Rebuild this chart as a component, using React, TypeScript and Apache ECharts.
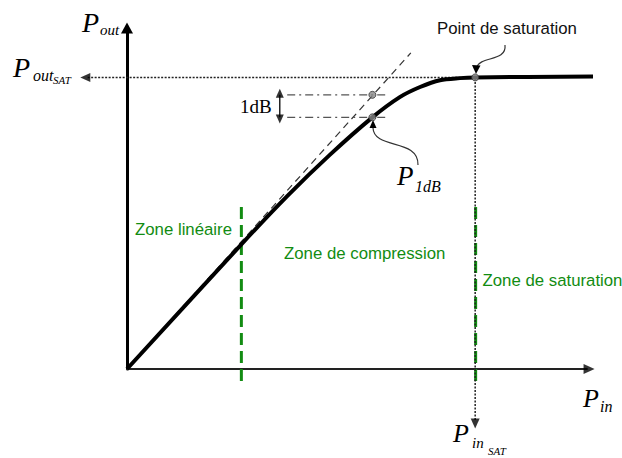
import React, { useEffect, useRef } from "react";
import * as echarts from "echarts";

// Transfer curve (arbitrary units)
const pin = [0, 2.46, 3.46, 4.38, 5.3, 5.9, 6.33, 6.76, 7.19, 7.52, 10.1];
const pout = [0, 3.64, 5.07, 6.28, 7.38, 7.98, 8.27, 8.47, 8.53, 8.55, 8.58];
// Linear extrapolation (tangent)
const tangentIn = [0, 6.13];
const tangentOut = [0, 9.27];
// 1 dB compression point
const p1dbIn = 5.3;
const p1dbOut = 7.38;
const p1dbLinear = 8.04;
// Saturation point
const satIn = 7.52;
const satOut = 8.55;
// Zone borders
const zoneBorders = [2.47, 7.53];

const GREEN = "#128c12";
const SERIF = '"Liberation Serif", "Times New Roman", serif';
const SANS = '"Liberation Sans", Arial, sans-serif';

function txt(text: string, x: number, y: number, size: number, family: string, fill: string, italic = false) {
  return {
    type: "text",
    x,
    y,
    silent: true,
    style: {
      text,
      fill,
      fontSize: size,
      fontFamily: family,
      fontStyle: italic ? "italic" : "normal",
      align: "left",
      verticalAlign: "middle",
    },
  };
}

export default function App() {
  const ref = useRef<HTMLDivElement>(null);
  useEffect(() => {
    document.body.style.margin = "0";
    if (!ref.current) return;
    const chart = echarts.init(ref.current, null, { renderer: "svg" });
    const curve = pin.map((x, i) => [x, pout[i]]);
    const arrowHead = (x: number, y: number, rot: number, w = 9, h = 9) => ({
      value: [x, y],
      symbolRotate: rot,
      symbolSize: [w, h],
    });
    chart.setOption({
      animation: false,
      grid: { left: 80.7, top: 28, right: 32, bottom: 89 },
      xAxis: {
        type: "value",
        min: -1,
        max: 10,
        axisLine: { show: false },
        axisTick: { show: false },
        axisLabel: { show: false },
        splitLine: { show: false },
      },
      yAxis: {
        type: "value",
        min: 0,
        max: 10,
        axisLine: {
          show: true,
          onZero: true,
          symbol: ["none", "triangle"],
          symbolSize: [12, 11],
          lineStyle: { color: "#000", width: 3 },
        },
        axisTick: { show: false },
        axisLabel: { show: false },
        splitLine: { show: false },
      },
      series: [
        {
          type: "line",
          name: "xAxisLine",
          data: [[0, 0], [9.95, 0]],
          showSymbol: false,
          clip: false,
          lineStyle: { color: "#222", width: 2 },
          z: 1,
        },
        {
          type: "line",
          name: "zones",
          data: [[zoneBorders[0], 4.75], [zoneBorders[0], -0.41], null, [zoneBorders[1], 4.75], [zoneBorders[1], -0.41]],
          connectNulls: false,
          showSymbol: false,
          clip: false,
          lineStyle: { color: GREEN, width: 3, type: [12, 6] },
          z: 2,
        },
        {
          type: "line",
          name: "tangent",
          data: tangentIn.map((x, i) => [x, tangentOut[i]]),
          showSymbol: false,
          clip: false,
          lineStyle: { color: "#333", width: 1.2, type: [7, 5] },
          z: 2,
        },
        {
          type: "line",
          name: "dashdot",
          data: [[3.46, p1dbLinear], [5.64, p1dbLinear], null, [3.46, p1dbOut], [5.64, p1dbOut]],
          showSymbol: false,
          clip: false,
          lineStyle: { color: "#555", width: 1.2, type: [8, 4, 2, 4] },
          z: 2,
        },
        {
          type: "line",
          name: "sat",
          data: [[-0.85, satOut], [satIn, satOut], [satIn, -1.5]],
          showSymbol: false,
          clip: false,
          lineStyle: { color: "#222", width: 1.5, type: [2, 1.5] },
          z: 2,
        },
        {
          type: "line",
          name: "oneDb",
          data: [[3.3, p1dbLinear], [3.3, p1dbOut]],
          showSymbol: false,
          clip: false,
          lineStyle: { color: "#000", width: 1.3 },
          z: 3,
        },
        {
          type: "line",
          name: "Pout",
          data: curve,
          smooth: 0.3,
          showSymbol: false,
          clip: false,
          lineStyle: { color: "#000", width: 4 },
          z: 5,
        },
        {
          type: "scatter",
          name: "arrows",
          symbol: "triangle",
          clip: false,
          itemStyle: { color: "#000" },
          data: [
            arrowHead(-0.9, satOut, 90, 9, 10),
            arrowHead(satIn, -1.6, 180, 9, 10),
            arrowHead(3.3, p1dbLinear + 0.05, 0, 8, 9),
            arrowHead(3.3, p1dbOut - 0.05, 180, 8, 9),
            arrowHead(9.98, 0, -90, 10, 11),
          ],
          z: 6,
        },
        {
          type: "scatter",
          name: "points",
          symbol: "circle",
          symbolSize: 7,
          clip: false,
          itemStyle: { color: "#888", borderColor: "#333", borderWidth: 1 },
          data: [[p1dbIn, p1dbLinear], [p1dbIn, p1dbOut], [satIn, satOut]],
          z: 7,
        },
      ],
      graphic: [
        txt("P", 82, 22.3, 28, SERIF, "#000", true),
        txt("out", 100, 30, 15, SERIF, "#000", true),
        txt("P", 13, 67.3, 28, SERIF, "#000", true),
        txt("out", 33, 75.6, 16, SERIF, "#000", true),
        txt("SAT", 53, 80.3, 11, SERIF, "#000", true),
        txt("P", 583, 398, 26, SERIF, "#000", true),
        txt("in", 600, 406.6, 16, SERIF, "#000", true),
        txt("P", 453, 433, 26, SERIF, "#000", true),
        txt("in", 472, 443, 15, SERIF, "#000", true),
        txt("SAT", 488, 451.3, 11, SERIF, "#000", true),
        txt("P", 397, 176, 27, SERIF, "#000", true),
        txt("1dB", 415, 186.6, 16, SERIF, "#000", true),
        txt("1dB", 240, 106.9, 19, SERIF, "#000", false),
        txt("Zone linéaire", 135, 229, 16.8, SANS, GREEN),
        txt("Zone de compression", 284, 253, 16.8, SANS, GREEN),
        txt("Zone de saturation", 482.5, 280, 16.8, SANS, GREEN),
        txt("Point de saturation", 437, 28.5, 16.8, SANS, "#111"),
        {
          type: "bezierCurve",
          silent: true,
          shape: { x1: 505, y1: 45, cpx1: 507, cpy1: 62, cpx2: 480, cpy2: 56, x2: 477, y2: 67 },
          style: { stroke: "#333", lineWidth: 1.2, fill: null },
        },
        {
          type: "polygon",
          silent: true,
          shape: { points: [[476, 74], [472, 65], [480.5, 65.5]] },
          style: { fill: "#000" },
        },
        {
          type: "bezierCurve",
          silent: true,
          shape: { x1: 418, y1: 165, cpx1: 419, cpy1: 138, cpx2: 374, cpy2: 150, x2: 373, y2: 128 },
          style: { stroke: "#333", lineWidth: 1.2, fill: null },
        },
        {
          type: "polygon",
          silent: true,
          shape: { points: [[373, 120], [369.5, 128], [376.5, 128]] },
          style: { fill: "#000" },
        },
      ],
    });
    return () => chart.dispose();
  }, []);
  return <div ref={ref} style={{ width: 622, height: 458 }} />;
}
